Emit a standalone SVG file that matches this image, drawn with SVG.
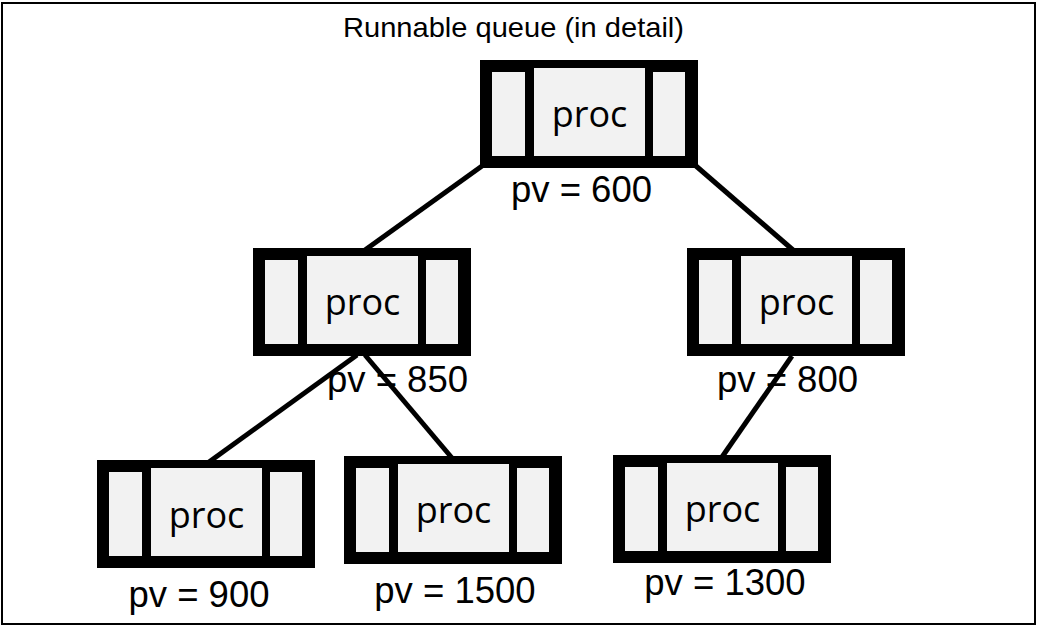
<svg xmlns="http://www.w3.org/2000/svg" xmlns:xlink="http://www.w3.org/1999/xlink" width="1037" height="635" viewBox="0 0 1037 635">
<style>
.frame{fill:none;stroke:#000;stroke-width:2}
.title{font-family:"Liberation Sans",Arial,sans-serif;font-size:28px;fill:#000}
.proc{font-family:"Open Sans","Noto Sans",sans-serif;font-size:36px;fill:#000;text-anchor:middle}
.pv{font-family:"Liberation Sans",Arial,sans-serif;font-size:36.5px;fill:#000;text-anchor:middle}
.edge{stroke:#000;stroke-width:5;fill:none}
.outer{fill:#000}
.panel{fill:#f2f2f2}
</style>
<defs>
<g id="procBox">
<rect class="outer" x="0" y="0" width="218" height="108"/>
<rect class="panel" x="12" y="12" width="33" height="84"/>
<rect class="panel" x="54" y="8" width="111" height="88"/>
<rect class="panel" x="173" y="12" width="32" height="84"/>
</g>
</defs>
<rect width="1037" height="635" fill="#fff"/>
<rect class="frame" x="2" y="3" width="1033" height="621"/>
<text class="title" x="343" y="37" textLength="341" lengthAdjust="spacingAndGlyphs">Runnable queue (in detail)</text>
<g id="connectors">
<line class="edge" x1="482" y1="166" x2="365" y2="250"/>
<line class="edge" x1="696" y1="166" x2="793" y2="250"/>
<line class="edge" x1="357" y1="355" x2="209" y2="462"/>
<line class="edge" x1="365" y1="355" x2="452" y2="458"/>
<line class="edge" x1="792" y1="356" x2="722" y2="457"/>
</g>
<g id="node-root">
<use xlink:href="#procBox" x="480" y="60"/>
<text class="proc" x="589.5" y="127">proc</text>
<text class="pv" x="581.5" y="202">pv = 600</text>
</g>
<g id="node-850">
<use xlink:href="#procBox" x="253" y="248"/>
<text class="proc" x="362.5" y="315">proc</text>
<text class="pv" x="397.5" y="392">pv = 850</text>
</g>
<g id="node-800">
<use xlink:href="#procBox" x="687" y="248"/>
<text class="proc" x="796.5" y="315">proc</text>
<text class="pv" x="787.5" y="392">pv = 800</text>
</g>
<g id="node-900">
<use xlink:href="#procBox" x="97" y="460"/>
<text class="proc" x="206.5" y="528">proc</text>
<text class="pv" x="199" y="607">pv = 900</text>
</g>
<g id="node-1500">
<use xlink:href="#procBox" x="344" y="456"/>
<text class="proc" x="453.5" y="523">proc</text>
<text class="pv" x="455" y="603">pv = 1500</text>
</g>
<g id="node-1300">
<use xlink:href="#procBox" x="613" y="455"/>
<text class="proc" x="722.5" y="522">proc</text>
<text class="pv" x="725" y="595">pv = 1300</text>
</g>
</svg>
